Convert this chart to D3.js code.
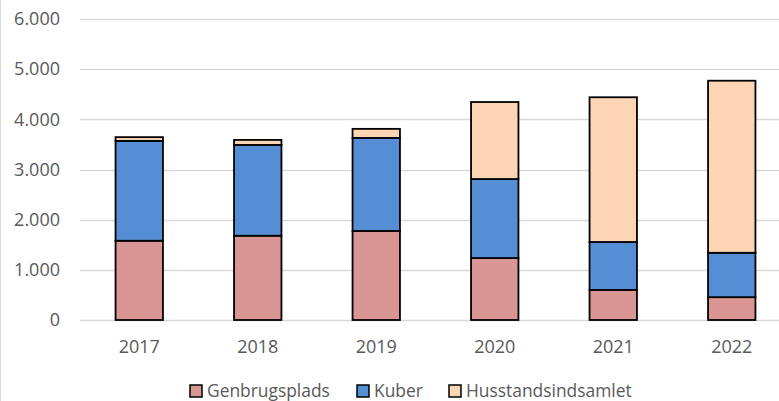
<html>
<script src="https://d3js.org/d3.v7.min.js"></script>
<style>
    body {margin: 0; background: white;}
    text {font-family: "Open Sans", sans-serif; fill: #595959;}
</style>
<body>
<svg width=779 height=401></svg>
<script>
const years = ['2017', '2018', '2019', '2020', '2021', '2022'];
const seriesNames = ['Genbrugsplads', 'Kuber', 'Husstandsindsamlet'];
const genbrugsplads = [1580, 1680, 1775, 1235, 600, 455];
const kuber = [1990, 1810, 1855, 1575, 955, 885];
const husstandsindsamlet = [75, 100, 180, 1535, 2885, 3430];
const yTicks = [0, 1000, 2000, 3000, 4000, 5000, 6000];
const colors = ['#d99694', '#558ed5', '#fcd5b5'];

const rows = years.map((y, i) => ({
    year: y,
    Genbrugsplads: genbrugsplads[i],
    Kuber: kuber[i],
    Husstandsindsamlet: husstandsindsamlet[i]
}));

const svg = d3.select('svg');

// left border of the chart area
svg.append('line')
    .attr('x1', 0.5).attr('x2', 0.5)
    .attr('y1', 0).attr('y2', 401)
    .attr('stroke', '#d9d9d9');

const xs = d3.scaleBand().domain(years).range([80, 791]).paddingInner(0.6).paddingOuter(0.3);
const ys = d3.scaleLinear().domain([0, 6000]).range([320, 19]);
const fmt = d => d3.format(',')(d).replace(/,/g, '.');

// gridlines
svg.append('g')
    .selectAll('line')
    .data(yTicks)
    .enter()
    .append('line')
    .attr('x1', 80).attr('x2', 779)
    .attr('y1', d => Math.round(ys(d)) + 0.5)
    .attr('y2', d => Math.round(ys(d)) + 0.5)
    .attr('stroke', '#d9d9d9')
    .attr('stroke-width', 1.5);

// y labels
svg.append('g')
    .selectAll('text')
    .data(yTicks)
    .enter()
    .append('text')
    .attr('x', 60)
    .attr('y', d => ys(d))
    .attr('dy', '0.35em')
    .style('text-anchor', 'end')
    .style('font-size', '18px')
    .text(fmt);

const stack = d3.stack().keys(seriesNames)(rows);

svg.append('g')
    .selectAll('g')
    .data(stack)
    .enter()
    .append('g')
    .attr('fill', (d, i) => colors[i])
    .selectAll('rect')
    .data(d => d)
    .enter()
    .append('rect')
    .attr('x', d => xs(d.data.year))
    .attr('width', xs.bandwidth())
    .attr('y', d => ys(d[1]))
    .attr('height', d => ys(d[0]) - ys(d[1]))
    .attr('stroke', 'black')
    .attr('stroke-width', 1.8);

// x labels
svg.append('g')
    .selectAll('text')
    .data(years)
    .enter()
    .append('text')
    .attr('x', d => xs(d) + xs.bandwidth() / 2)
    .attr('y', 347)
    .attr('dy', '0.35em')
    .style('text-anchor', 'middle')
    .style('font-size', '18px')
    .text(d => d);

// legend
const legendX = [190, 357, 449];
const legend = svg.append('g')
    .selectAll('g')
    .data(seriesNames)
    .enter()
    .append('g')
    .attr('transform', (d, i) => 'translate(' + legendX[i] + ',391)');
legend.append('rect')
    .attr('x', 0).attr('y', -6)
    .attr('width', 12).attr('height', 12)
    .attr('fill', (d, i) => colors[i])
    .attr('stroke', 'black')
    .attr('stroke-width', 1.5);
legend.append('text')
    .attr('x', 17)
    .attr('dy', '0.35em')
    .style('font-size', '17.4px')
    .text(d => d);
</script>
</body>
</html>
